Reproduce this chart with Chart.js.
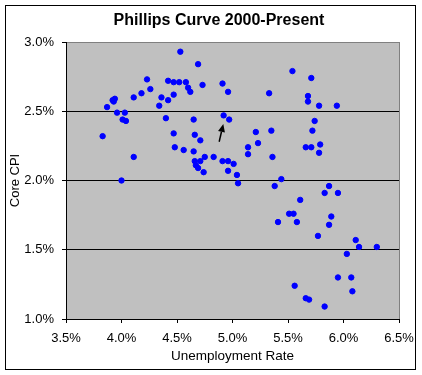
<!DOCTYPE html>
<html>
<head>
<meta charset="utf-8">
<title>Phillips Curve 2000-Present</title>
<script src="https://cdn.jsdelivr.net/npm/chart.js@4.4.1/dist/chart.umd.min.js"></script>
<style>
    html, body { margin: 0; padding: 0; background: #fff; }
    #wrap { width: 422px; height: 375px; }
</style>
</head>
<body>
<div id="wrap"><canvas id="chart" width="422" height="375"></canvas></div>
<script>
// Phillips curve - unemployment rate (x, %) vs core CPI (y, %)
const unemployment = [
    4.53, 4.69, 4.23, 4.42, 4.47, 4.52, 4.58, 4.73, 4.91, 4.26,
    4.60, 4.62, 4.18, 4.96, 3.94, 3.92, 3.93, 4.11, 4.36, 4.47,
    4.42, 4.34, 3.87, 3.96, 4.03, 4.01, 4.04, 4.40, 4.65, 4.92,
    4.97, 3.83, 4.47, 4.66, 4.71, 4.48, 4.56, 4.65, 4.11, 4.75,
    4.83, 4.66, 4.71, 4.67, 4.69, 4.74, 4.91, 4.96, 5.01, 4.96,
    5.04, 5.05, 4.00, 5.21, 5.35, 5.23, 5.14, 5.14, 5.36, 5.54,
    5.71, 5.33, 5.68, 5.68, 5.78, 5.94, 5.74, 5.72, 5.66, 5.71,
    5.79, 5.78, 5.44, 5.38, 5.87, 5.83, 5.95, 5.61, 5.51, 5.55,
    5.41, 5.58, 5.89, 5.87, 5.77, 6.11, 6.14, 6.30, 6.03, 5.95,
    6.07, 6.08, 5.56, 5.66, 5.69, 5.83
];
const coreCPI = [
    2.93, 2.84, 2.73, 2.72, 2.71, 2.71, 2.71, 2.69, 2.70, 2.66,
    2.67, 2.64, 2.63, 2.64, 2.59, 2.58, 2.57, 2.60, 2.60, 2.62,
    2.58, 2.54, 2.53, 2.49, 2.49, 2.44, 2.43, 2.45, 2.44, 2.47,
    2.44, 2.32, 2.34, 2.33, 2.29, 2.24, 2.22, 2.21, 2.17, 2.17,
    2.17, 2.14, 2.14, 2.11, 2.09, 2.06, 2.14, 2.14, 2.12, 2.07,
    2.04, 1.98, 2.00, 2.35, 2.36, 2.27, 2.24, 2.19, 2.17, 2.79,
    2.74, 2.63, 2.61, 2.57, 2.54, 2.54, 2.43, 2.36, 2.24, 2.24,
    2.26, 2.20, 2.01, 1.96, 1.96, 1.91, 1.91, 1.86, 1.76, 1.76,
    1.70, 1.70, 1.74, 1.68, 1.60, 1.57, 1.52, 1.52, 1.47, 1.30,
    1.30, 1.20, 1.24, 1.15, 1.14, 1.09
];
const xTicks = [3.5, 4.0, 4.5, 5.0, 5.5, 6.0, 6.5];
const yTicks = [1.0, 1.5, 2.0, 2.5, 3.0];
// arrow annotation (data units): tail -> tip
const arrowFrom = [4.88, 2.28];
const arrowTo = [4.917, 2.408];

const FONT = '"Liberation Sans", Arial, sans-serif';
Chart.defaults.font.family = FONT;
Chart.defaults.color = '#000';

const points = unemployment.map((u, i) => ({ x: u, y: coreCPI[i] }));

// gray plot area, outer frame, title and arrow
const excelLook = {
    id: 'excelLook',
    beforeDraw: function (chart) {
        const { ctx, chartArea: a } = chart;
        ctx.save();
        ctx.fillStyle = '#fff';
        ctx.fillRect(0, 0, chart.width, chart.height);
        ctx.fillStyle = '#C0C0C0';
        ctx.fillRect(a.left, a.top, a.right - a.left, a.bottom - a.top);
        ctx.restore();
    },
    afterDatasetsDraw: function (chart) {
        const { ctx, scales } = chart;
        const x0 = scales.x.getPixelForValue(arrowFrom[0]);
        const y0 = scales.y.getPixelForValue(arrowFrom[1]);
        const x1 = scales.x.getPixelForValue(arrowTo[0]);
        const y1 = scales.y.getPixelForValue(arrowTo[1]);
        const ang = Math.atan2(y1 - y0, x1 - x0);
        const len = 8, half = 3.5;
        const bx = x1 - len * Math.cos(ang), by = y1 - len * Math.sin(ang);
        ctx.save();
        ctx.strokeStyle = '#000';
        ctx.fillStyle = '#000';
        ctx.lineWidth = 1.5;
        ctx.beginPath();
        ctx.moveTo(x0, y0);
        ctx.lineTo(bx, by);
        ctx.stroke();
        ctx.beginPath();
        ctx.moveTo(x1, y1);
        ctx.lineTo(bx + half * Math.sin(ang), by - half * Math.cos(ang));
        ctx.lineTo(bx - half * Math.sin(ang), by + half * Math.cos(ang));
        ctx.closePath();
        ctx.fill();
        ctx.restore();
    },
    afterDraw: function (chart) {
        const ctx = chart.ctx;
        ctx.save();
        ctx.strokeStyle = '#000';
        ctx.lineWidth = 1;
        ctx.strokeRect(5.5, 5.5, 410, 364);
        ctx.fillStyle = '#000';
        ctx.font = 'bold 16px ' + FONT;
        ctx.textAlign = 'center';
        ctx.textBaseline = 'alphabetic';
        ctx.fillText('Phillips Curve 2000-Present', 219, 25);
        ctx.restore();
    }
};

new Chart(document.getElementById('chart'), {
    type: 'scatter',
    data: {
        datasets: [{
            label: 'Core CPI',
            data: points,
            backgroundColor: '#0000FF',
            borderColor: '#0000FF',
            borderWidth: 1,
            pointRadius: 2.7,
            pointHoverRadius: 2.7
        }]
    },
    options: {
        responsive: false,
        animation: false,
        devicePixelRatio: 1,
        layout: {
            padding: { top: 42, right: 23, left: 0, bottom: 0 }
        },
        plugins: {
            legend: { display: false },
            tooltip: { enabled: false },
            title: { display: false }
        },
        events: [],
        scales: {
            x: {
                type: 'linear',
                min: 3.5,
                max: 6.5,
                afterBuildTicks: function (scale) {
                    scale.ticks = xTicks.map(v => ({ value: v }));
                },
                afterFit: function (scale) {
                    scale.height = 56;
                },
                ticks: {
                    font: { size: 13 },
                    padding: 8,
                    maxRotation: 0,
                    callback: v => v.toFixed(1) + '%'
                },
                grid: {
                    color: c => (c.tick && c.tick.value === 6.5) ? '#808080' : 'rgba(0,0,0,0)',
                    tickColor: '#000',
                    tickLength: 4,
                    lineWidth: 1
                },
                border: { display: true, color: '#000', width: 1 },
                title: {
                    display: true,
                    text: 'Unemployment Rate',
                    font: { size: 13.5 },
                    padding: { top: 0, bottom: 10.5 }
                }
            },
            y: {
                type: 'linear',
                min: 1.0,
                max: 3.0,
                afterBuildTicks: function (scale) {
                    scale.ticks = yTicks.map(v => ({ value: v }));
                },
                afterFit: function (scale) {
                    scale.width = 66;
                },
                ticks: {
                    font: { size: 13 },
                    padding: 8,
                    callback: v => v.toFixed(1) + '%'
                },
                grid: {
                    color: c => (c.tick && c.tick.value === 3.0) ? '#808080' : '#000',
                    tickColor: '#000',
                    tickLength: 4,
                    lineWidth: 1
                },
                border: { display: true, color: '#000', width: 1 },
                title: {
                    display: true,
                    text: 'Core CPI',
                    font: { size: 13 },
                    padding: { top: 7.5, bottom: 0 }
                }
            }
        }
    },
    plugins: [excelLook]
});
</script>
</body>
</html>
